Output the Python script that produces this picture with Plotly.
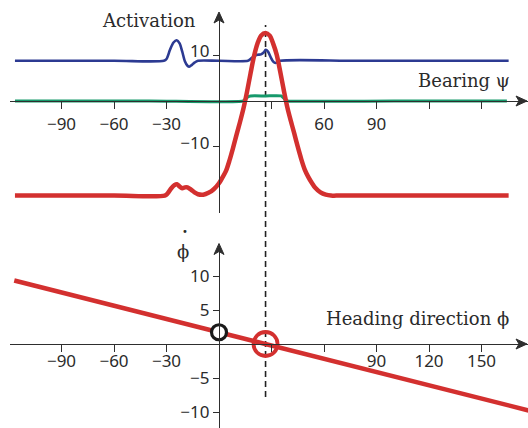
import plotly.graph_objects as go

# ---- top panel: field activations over bearing psi (deg) ----
bearing_red = [-116.6, -60, -31, -29.5, -27.5, -25.5, -24, -22.5, -21, -19.5, -18, -16, -14, -12,
               -9, -6, -3, 0, 2, 4, 6, 8, 10, 12, 14, 16, 18, 20, 22, 24, 26.6,
               29, 31, 33, 35, 37, 39, 41, 43, 45, 47, 49, 51, 53, 55, 58, 61, 64, 67, 120, 165.5]
activation_red = [-20.7, -20.7, -20.7, -20.3, -19.2, -18.4, -18.2, -18.7, -19.1, -18.9, -18.9, -19.4, -20.0, -20.4,
                  -20.5, -20.1, -19.3, -18.0, -16.7, -15.3, -13.0, -10.3, -7.4, -4.6, -1.6, 2.0, 6.0, 9.8, 12.6, 14.3, 14.9,
                  14.3, 12.5, 10.1, 6.4, 2.4, -1.3, -4.3, -7.1, -10.0, -12.7, -15.0, -16.6, -17.9, -19.0, -20.0, -20.5, -20.7, -20.7, -20.7, -20.7]

bearing_blue = [-116.6, -60, -31.5, -30, -28, -26, -24.2, -22.5, -21, -19.5, -18, -17, -15.5, -14, -12,
                0, 16.5, 18, 20, 22, 24, 25.5, 26.7, 28, 29.5, 31, 32.3, 33.5, 35, 80, 165.5]
activation_blue = [8.8, 8.8, 8.8, 9.2, 11.2, 12.8, 13.3, 12.6, 10.8, 8.7, 7.7, 7.5, 7.9, 8.4, 8.8,
                   8.8, 8.8, 9.2, 9.8, 10.1, 10.2, 10.6, 11.2, 10.8, 9.6, 8.6, 8.3, 8.5, 8.8, 8.8, 8.8]

bearing_green = [-116.6, -40, 13.8, 15, 16.5, 18, 26.6, 35.5, 37, 38.3, 39, 100, 164.5]
activation_green = [0, 0, 0, 0.4, 0.9, 1.1, 1.1, 1.1, 0.6, 0.1, 0, 0, 0]

# ---- bottom panel: heading rate over heading direction phi (deg) ----
heading = [-117, 180]
heading_rate = [9.34, -9.98]
current_heading = [0]
current_rate = [1.73]
target_bearing = 26.6

top_x_ticks = [-90, -60, -30, 30, 60, 90, 120, 150]
top_x_text = ["\u221290", "\u221260", "\u221230", "", "60", "90", "", ""]
bot_x_ticks = [-90, -60, -30, 30, 60, 90, 120, 150]
bot_x_text = ["\u221290", "\u221260", "\u221230", "", "", "90", "120", "150"]
top_y_ticks = [10, -10]
top_y_text = ["10", "\u221210"]
bot_y_ticks = [10, 5, -5, -10]
bot_y_text = ["10", "5", "\u22125", "\u221210"]

RED = "#d3302f"
BLUE = "#2c3a92"
GREEN = "#16996b"
AX = "#2e2e2e"
TXT = "#2b2b2b"
W, H = 528, 428

fig = go.Figure()
fig.add_trace(go.Scatter(x=bearing_green, y=activation_green, mode="lines",
                         line=dict(color=GREEN, width=3, shape="spline", smoothing=0.6),
                         xaxis="x", yaxis="y", hoverinfo="skip"))
fig.add_trace(go.Scatter(x=bearing_blue, y=activation_blue, mode="lines",
                         line=dict(color=BLUE, width=2.6, shape="spline", smoothing=0.8),
                         xaxis="x", yaxis="y", hoverinfo="skip"))
fig.add_trace(go.Scatter(x=bearing_red, y=activation_red, mode="lines",
                         line=dict(color=RED, width=4.5, shape="spline", smoothing=0.8),
                         xaxis="x", yaxis="y", hoverinfo="skip"))

fig.add_trace(go.Scatter(x=heading, y=heading_rate, mode="lines",
                         line=dict(color=RED, width=4.5),
                         xaxis="x2", yaxis="y2", hoverinfo="skip"))
fig.add_trace(go.Scatter(x=current_heading, y=current_rate, mode="markers",
                         marker=dict(size=15, color="white", line=dict(color="#1a1a1a", width=3.2)),
                         xaxis="x2", yaxis="y2", hoverinfo="skip"))
fig.add_trace(go.Scatter(x=[target_bearing], y=[0], mode="markers",
                         marker=dict(size=24, color="rgba(0,0,0,0)", line=dict(color=RED, width=3.8)),
                         xaxis="x2", yaxis="y2", hoverinfo="skip"))

tickfont = dict(family="Noto Sans", size=17, color=TXT)
common = dict(showline=True, linecolor=AX, linewidth=1.3, ticks="outside", tickcolor=AX,
              tickwidth=1.3, showgrid=False, zeroline=False, tickfont=tickfont, tickmode="array")

x_dom = [10 / W, 1]
x_rng = [(10 - 219) / 1.75, (W - 219) / 1.75]

fig.update_layout(
    width=W, height=H, margin=dict(l=0, r=0, t=0, b=0),
    paper_bgcolor="white", plot_bgcolor="white", showlegend=False,
    xaxis=dict(domain=x_dom, range=x_rng, anchor="free", position=1 - 101 / H,
               tickvals=top_x_ticks, ticktext=top_x_text, ticklen=7, ticklabelstandoff=0, **common),
    yaxis=dict(domain=[1 - 213 / H, 1 - 15 / H], range=[(101 - 213) / 4.57, (101 - 15) / 4.57],
               anchor="free", position=219 / W, ticklabelshift=-4,
               tickvals=top_y_ticks, ticktext=top_y_text, ticklen=6, **common),
    xaxis2=dict(domain=x_dom, range=x_rng, anchor="free", position=1 - 344 / H,
                tickvals=bot_x_ticks, ticktext=bot_x_text, ticklen=7, ticklabelstandoff=-6, **common),
    yaxis2=dict(domain=[0, 1 - 247 / H], range=[(344 - 428) / 6.8, (344 - 247) / 6.8],
                anchor="free", position=219 / W,
                tickvals=bot_y_ticks, ticktext=bot_y_text, ticklen=6, **common),
)

# dashed guide at the target bearing, spanning both panels
fig.add_shape(type="line", xref="x", yref="paper", x0=target_bearing, x1=target_bearing,
              y0=1 - 397 / H, y1=1 - 25 / H, line=dict(color="#222", width=1.6, dash="6px,4px"),
              layer="below")

# axis arrowheads
arrow_r = "M -1,0 L -12,5 L -9,0 L -12,-5 Z"
arrow_u = "M 0,0 L -5,-11 L 0,-8 L 5,-11 Z"
for yref in ("y", "y2"):
    fig.add_shape(type="path", xref="paper", yref=yref, xsizemode="pixel", ysizemode="pixel",
                  xanchor=1, yanchor=0, path=arrow_r,
                  fillcolor=AX, line=dict(color=AX, width=1))
for yval in (1 - 12 / H, 1 - 243.5 / H):
    fig.add_shape(type="path", xref="x", yref="paper", xsizemode="pixel", ysizemode="pixel",
                  xanchor=0, yanchor=yval, path=arrow_u,
                  fillcolor=AX, line=dict(color=AX, width=1))

serif = dict(family="DejaVu Serif", size=18, color=TXT)
fig.add_annotation(text="Activation", xref="paper", yref="paper", x=198 / W, y=1 - 20 / H,
                   xanchor="right", yanchor="middle", showarrow=False, font=serif)
fig.add_annotation(text="Bearing \u03c8", xref="paper", yref="paper", x=512 / W, y=1 - 81 / H,
                   xanchor="right", yanchor="middle", showarrow=False, font=serif)
fig.add_annotation(text="Heading direction \u03d5", xref="paper", yref="paper", x=511 / W, y=1 - 318 / H,
                   xanchor="right", yanchor="middle", showarrow=False, font=serif)
fig.add_annotation(text="\u03d5", xref="paper", yref="paper", x=183 / W, y=1 - 252 / H,
                   xanchor="center", yanchor="middle", showarrow=False, font=serif)
fig.add_annotation(text="\u2022", xref="paper", yref="paper", x=185 / W, y=1 - 231 / H,
                   xanchor="center", yanchor="middle", showarrow=False,
                   font=dict(family="DejaVu Sans", size=10, color=TXT))

fig.write_html("out.html")
